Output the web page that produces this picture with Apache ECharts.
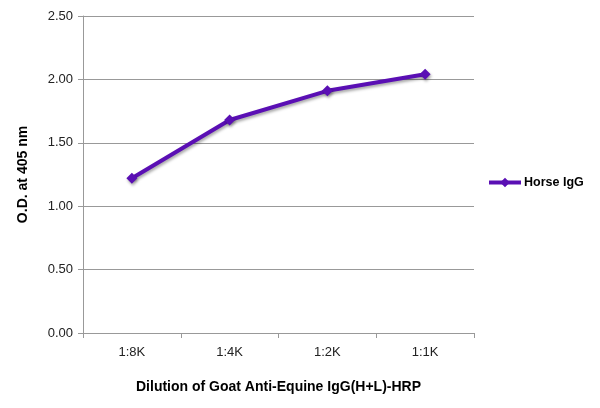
<!DOCTYPE html>
<html><head><meta charset="utf-8">
<script src="https://cdn.jsdelivr.net/npm/echarts@6/dist/echarts.min.js"></script>
<style>html,body{margin:0;padding:0;background:#fff}#c{width:600px;height:408px}</style>
</head><body><div id="c"></div>
<script>
const categories = ['1:8K', '1:4K', '1:2K', '1:1K'];
const horseIgG = [1.22, 1.68, 1.91, 2.04];
const seriesName = 'Horse IgG';

const chart = echarts.init(document.getElementById('c'));
const font = 'Liberation Sans';
chart.setOption({
  animation: false,
  grid: { left: 83, right: 126, top: 16, bottom: 75 },
  legend: {
    data: [seriesName], orient: 'vertical', left: 482, top: 171,
    itemWidth: 32, itemHeight: 12, itemGap: 4,
    lineStyle: { width: 4 },
    textStyle: { fontFamily: font, fontWeight: 'bold', fontSize: 12.5, color: '#000', padding: [0, 0, 0, -2] }
  },
  xAxis: {
    type: 'category', data: categories, boundaryGap: true,
    name: 'Dilution of Goat Anti-Equine IgG(H+L)-HRP', nameLocation: 'middle', nameGap: 47,
    nameTextStyle: { fontFamily: font, fontWeight: 'bold', fontSize: 14, color: '#000' },
    axisLine: { lineStyle: { color: '#999' } },
    axisTick: { show: true, length: 5, lineStyle: { color: '#999' } },
    axisLabel: { fontFamily: font, fontSize: 13, color: '#222', margin: 13 }
  },
  yAxis: {
    type: 'value', min: 0, max: 2.5, interval: 0.5,
    name: 'O.D. at 405 nm', nameLocation: 'middle', nameGap: 53,
    nameTextStyle: { fontFamily: font, fontWeight: 'bold', fontSize: 14, color: '#000' },
    axisLine: { show: true, lineStyle: { color: '#999' } },
    axisTick: { show: true, length: 5, lineStyle: { color: '#999' } },
    axisLabel: { fontFamily: font, fontSize: 13, color: '#222', margin: 10, formatter: v => v.toFixed(2) },
    splitLine: { lineStyle: { color: '#999' } }
  },
  series: [{
    name: seriesName, type: 'line', data: horseIgG,
    symbol: 'diamond', symbolSize: 11,
    lineStyle: { color: '#5a0fb4', width: 4, shadowColor: 'rgba(0,0,0,0.35)', shadowBlur: 3, shadowOffsetX: 1, shadowOffsetY: 2 },
    itemStyle: { color: '#5a0fb4', shadowColor: 'rgba(0,0,0,0.35)', shadowBlur: 3, shadowOffsetX: 1, shadowOffsetY: 2 }
  }]
});
</script></body></html>
